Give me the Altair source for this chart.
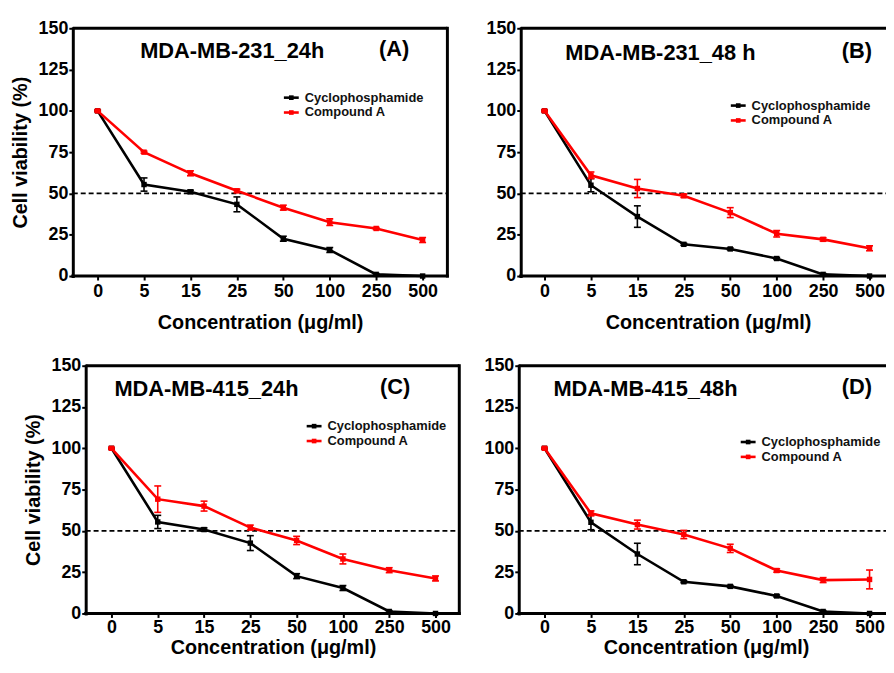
import altair as alt
import pandas as pd

FONT = "Liberation Sans"

CONC = ["0", "5", "15", "25", "50", "100", "250", "500"]
SERIES = ["Cyclophosphamide", "Compound A"]
COLORS = ["#000000", "#ff0000"]
Y_TICKS = [0, 25, 50, 75, 100, 125, 150]
THRESHOLD = [50]

# Panel A  MDA-MB-231_24h
A_CYC = [100, 55.4, 51.0, 43.4, 22.6, 15.8, 1.0, 0.0]
A_CYC_ERR = [0.5, 4.0, 1.0, 4.5, 1.5, 1.5, 0.5, 0.0]
A_CMP = [100, 75.0, 62.2, 51.6, 41.4, 32.6, 28.8, 21.8]
A_CMP_ERR = [0.5, 0.6, 1.5, 1.0, 1.5, 2.0, 0.6, 1.5]

# Panel B  MDA-MB-231_48 h
B_CYC = [100, 55.0, 36.0, 19.2, 16.4, 10.6, 1.0, 0.0]
B_CYC_ERR = [0.5, 4.0, 6.5, 0.6, 0.6, 0.6, 0.5, 0.0]
B_CMP = [100, 61.0, 53.0, 48.6, 38.4, 25.6, 22.2, 16.8]
B_CMP_ERR = [0.5, 2.0, 5.5, 1.0, 3.0, 2.0, 1.0, 1.5]

# Panel C  MDA-MB-415_24h
C_CYC = [100, 55.4, 50.8, 42.6, 22.6, 15.4, 1.2, 0.0]
C_CYC_ERR = [0.5, 4.0, 1.0, 4.5, 1.5, 1.5, 0.5, 0.0]
C_CMP = [100, 69.2, 65.0, 52.0, 44.2, 33.0, 26.2, 21.2]
C_CMP_ERR = [0.5, 8.0, 3.0, 1.5, 2.5, 3.0, 1.5, 1.5]

# Panel D  MDA-MB-415_48h
D_CYC = [100, 55.2, 36.0, 19.2, 16.4, 10.6, 1.2, 0.0]
D_CYC_ERR = [0.5, 4.5, 6.5, 0.6, 0.6, 0.6, 0.5, 0.0]
D_CMP = [100, 60.6, 53.8, 47.8, 39.4, 26.0, 20.2, 20.6]
D_CMP_ERR = [0.5, 1.5, 2.7, 2.5, 2.5, 1.0, 1.5, 5.7]

H = 250
ONE = pd.DataFrame({"k": [0]})


def make_panel(cyc, cyc_err, cmp, cmp_err, name, tag, width, x_range,
               show_ytitle, right_border, name_x, tag_x, text_y,
               leg_x, leg_y, x_title_pad, label_pad=3, shift=0):
    W = width + shift
    xscale = alt.Scale(type="point", domain=CONC, padding=0,
                       range=[x_range[0] + shift, x_range[1] + shift])
    yscale = alt.Scale(domain=[0, 150], nice=False, zero=True)

    def X():
        return alt.X("conc:O", sort=CONC, scale=xscale,
                     axis=alt.Axis(title="Concentration (μg/ml)", labelAngle=0,
                                   domain=False, labelPadding=label_pad,
                                   titlePadding=x_title_pad, titleX=shift + 189))

    def Y(field):
        return alt.Y(field, scale=yscale,
                     axis=alt.Axis(values=Y_TICKS,
                                   title="Cell viability (%)" if show_ytitle else None,
                                   labelPadding=1, titlePadding=8, offset=-shift))

    layers = []
    # dashed 50% line
    layers.append(
        alt.Chart(pd.DataFrame({"v": THRESHOLD}))
        .mark_rule(color="black", strokeDash=[5, 3], strokeWidth=1.8)
        .encode(y=Y("v:Q"), x=alt.value(shift), x2=alt.value(W))
    )
    for vals, errs, col in [(cyc, cyc_err, COLORS[0]), (cmp, cmp_err, COLORS[1])]:
        df = pd.DataFrame({"conc": CONC, "v": vals, "e": errs})
        base = alt.Chart(df).transform_calculate(
            lo="datum.v - datum.e", hi="datum.v + datum.e")
        layers.append(base.mark_line(color=col, strokeWidth=2.6).encode(x=X(), y=Y("v:Q")))
        layers.append(base.mark_rule(color=col, strokeWidth=1.6)
                      .encode(x=X(), y=Y("lo:Q"), y2="hi:Q"))
        layers.append(base.mark_tick(color=col, size=7, thickness=1.6, opacity=1)
                      .encode(x=X(), y=Y("lo:Q")))
        layers.append(base.mark_tick(color=col, size=7, thickness=1.6, opacity=1)
                      .encode(x=X(), y=Y("hi:Q")))
        layers.append(base.mark_square(color=col, size=30, opacity=1)
                      .encode(x=X(), y=Y("v:Q")))

    # frame: bottom, top and (optionally) right borders
    frame = dict(color="black", strokeWidth=3, strokeCap="square")
    layers.append(alt.Chart(ONE).mark_rule(**frame)
                  .encode(x=alt.value(shift), x2=alt.value(W), y=alt.value(H)))
    layers.append(alt.Chart(ONE).mark_rule(color="black", strokeWidth=3)
                  .encode(x=alt.value(shift), x2=alt.value(W), y=alt.value(0)))
    if right_border:
        layers.append(alt.Chart(ONE).mark_rule(**frame)
                      .encode(x=alt.value(W), y=alt.value(0), y2=alt.value(H)))

    # panel labels
    txt = dict(align="left", baseline="middle", font=FONT, fontSize=22,
               fontWeight="bold", color="black")
    layers.append(alt.Chart(ONE).mark_text(**txt)
                  .encode(text=alt.value(name), x=alt.value(name_x + shift), y=alt.value(text_y)))
    layers.append(alt.Chart(ONE).mark_text(**txt)
                  .encode(text=alt.value(tag), x=alt.value(tag_x + shift), y=alt.value(text_y - 2)))

    # legend
    for i, (lab, col) in enumerate(zip(SERIES, COLORS)):
        yy = leg_y + i * 15
        lx = leg_x + shift
        layers.append(alt.Chart(ONE).mark_rule(color=col, strokeWidth=2.6)
                      .encode(x=alt.value(lx), x2=alt.value(lx + 15), y=alt.value(yy)))
        layers.append(alt.Chart(ONE).mark_square(color=col, size=22, opacity=1)
                      .encode(x=alt.value(lx + 7.5), y=alt.value(yy)))
        layers.append(alt.Chart(ONE).mark_text(align="left", baseline="middle", font=FONT,
                                                fontSize=13, fontWeight="bold", color="#111111")
                      .encode(text=alt.value(lab), x=alt.value(lx + 21), y=alt.value(yy)))

    return alt.layer(*layers).properties(width=W, height=H)


pA = make_panel(A_CYC, A_CYC_ERR, A_CMP, A_CMP_ERR, "MDA-MB-231_24h", "(A)",
                378, [25, 353], True, True, 68, 309, 23, 213, 70, 12)
pB = make_panel(B_CYC, B_CYC_ERR, B_CMP, B_CMP_ERR, "MDA-MB-231_48 h", "(B)",
                378, [24, 352], False, False, 45, 324, 25, 212, 78, 12)
pC = make_panel(C_CYC, C_CYC_ERR, C_CMP, C_CMP_ERR, "MDA-MB-415_24h", "(C)",
                377, [26, 353], True, True, 29, 297, 24, 223, 61, 1, label_pad=1, shift=13)
pD = make_panel(D_CYC, D_CYC_ERR, D_CMP, D_CMP_ERR, "MDA-MB-415_48h", "(D)",
                378, [26, 354], False, False, 35, 326, 24, 224, 77, 1, label_pad=1)

top = alt.hconcat(pA, pB, spacing=35)
bottom = alt.hconcat(pC, pD, spacing=21)

SVG_W, SVG_H = 886, 653
PAD_L, PAD_T = 65.4, 17.5

chart = (
    alt.vconcat(top, bottom, spacing=24.5)
    .properties(autosize=alt.AutoSizeParams(type="none"),
                padding={"left": PAD_L, "top": PAD_T,
                         "right": SVG_W - PAD_L, "bottom": SVG_H - PAD_T},
                background="white")
    .configure_view(stroke=None)
    .configure_axis(domainColor="black", domainWidth=3, domainCap="square",
                    tickColor="black", tickWidth=2, tickSize=4,
                    labelFont=FONT, labelFontSize=18, labelFontWeight="bold", labelColor="black",
                    titleFont=FONT, titleFontSize=20, titleFontWeight="bold", titleColor="black",
                    grid=False)
)

chart.save("out.html", embed_options={"renderer": "svg", "actions": False})
